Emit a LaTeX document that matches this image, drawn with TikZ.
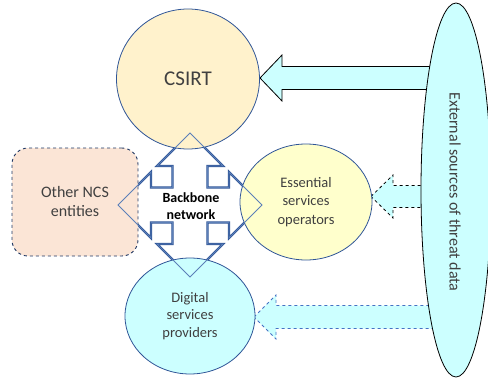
\documentclass[tikz,border=0pt]{standalone}
\usepackage{fontspec}
\setmainfont{Carlito}
\usetikzlibrary{shapes.geometric}
\definecolor{nblue}{HTML}{2F5597}
\definecolor{dblue}{HTML}{203864}
\definecolor{csirtfill}{HTML}{FFF2CC}
\definecolor{essfill}{HTML}{FFFFCC}
\definecolor{cyanfill}{HTML}{CCFFFF}
\definecolor{peach}{HTML}{FBE5D6}
\definecolor{txt}{HTML}{404040}
\definecolor{dashblue}{HTML}{4472C4}
\definecolor{tipblue}{HTML}{5B7FB8}
\tikzset{
  bubble/.style={ellipse, draw=nblue, line width=0.8pt, text=txt, align=center, inner sep=0pt},
  blockarrow/.style={fill=cyanfill, line width=0.8pt, line join=miter},
  quadarrow/.style={draw=nblue, line width=2.2pt, line join=miter},
  quadthin/.style={draw=tipblue, line width=0.9pt, line join=miter},
  quadpath/.pic={}
}
\newcommand{\quadshape}{(190,133) -- (223,166) -- (207.5,166) -- (207.5,187.5) -- (229,187.5) -- (229,172)
  -- (262,205) -- (229,238) -- (229,222.5) -- (207.5,222.5) -- (207.5,244) -- (223,244)
  -- (190,277) -- (157,244) -- (172.5,244) -- (172.5,222.5) -- (151,222.5) -- (151,238)
  -- (118,205) -- (151,172) -- (151,187.5) -- (172.5,187.5) -- (172.5,166) -- (157,166) -- cycle}
\begin{document}
\begin{tikzpicture}[x=1pt,y=-1pt]
\useasboundingbox (0,0) rectangle (488,380);

% four-way backbone arrow (thick part, under the bubbles)
\draw[quadarrow] \quadshape;

% block arrows from external sources
\draw[blockarrow, draw=black] (260,78) -- (282,55) -- (282,66.5) -- (440,66.5) -- (440,89.5) -- (282,89.5) -- (282,101) -- cycle;
\draw[blockarrow, draw=black, dashed] (371,196.5) -- (393,175) -- (393,185.5) -- (435,185.5) -- (435,207.5) -- (393,207.5) -- (393,218) -- cycle;
\draw[blockarrow, draw=dashblue, dashed] (254,317) -- (276,295) -- (276,305.5) -- (440,305.5) -- (440,328.5) -- (276,328.5) -- (276,339) -- cycle;

% nodes
\node[bubble, fill=csirtfill, minimum width=143pt, minimum height=140pt, font=\fontsize{21}{25}\selectfont] (csirt) at (188,79) {CSIRT};
\node[bubble, fill=essfill, minimum width=132pt, minimum height=116pt, font=\fontsize{14.5}{18.5}\selectfont] (ess) at (306,202) {Essential\\services\\operators};
\node[bubble, fill=cyanfill, minimum width=130pt, minimum height=116pt, font=\fontsize{14.5}{17.5}\selectfont] (dig) at (190,316) {Digital\\services\\providers};
\node[draw=dblue, dashed, line width=0.9pt, rounded corners=16pt, fill=peach, text=txt,
  minimum width=126pt, minimum height=108pt, align=center, font=\fontsize{16}{19}\selectfont] (ncs) at (75,202) {Other NCS\\entities};
\node[ellipse, draw=black, line width=0.8pt, fill=cyanfill, minimum width=70pt, minimum height=374pt, inner sep=0pt] (ext) at (456,190) {};
\node[rotate=-90, text=txt, font=\fontsize{16}{19}\selectfont] (extlabel) at (455,192) {External sources of threat data};

% thin outline of the backbone arrow over the bubbles
\draw[quadthin] \quadshape;
\node[align=center, font=\bfseries\fontsize{14}{17}\selectfont] (backbone) at (191,206) {Backbone\\network};
\end{tikzpicture}
\end{document}
